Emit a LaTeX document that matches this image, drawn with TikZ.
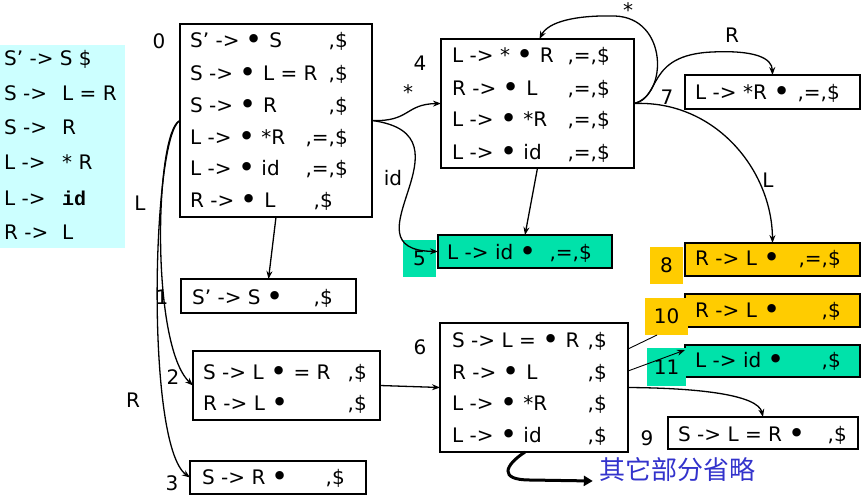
\documentclass[tikz,border=0pt]{standalone}
\usepackage{fontspec}
\usepackage{graphicx}
\setmainfont{DejaVu Sans}
\newfontfamily\cjkfont{Noto Sans CJK SC}
\newfontfamily\idfont{Liberation Mono}
\usetikzlibrary{arrows.meta,calc}

\definecolor{panelcyan}{RGB}{204,255,255}
\definecolor{stategreen}{RGB}{0,226,170}
\definecolor{stategold}{RGB}{255,204,0}
\definecolor{noteblue}{RGB}{51,51,204}

\newcommand{\itemfont}{\fontsize{20}{20}\selectfont}
\newcommand{\dotm}{\raisebox{-0.11em}{\scalebox{1.45}{\textbullet}}}

\begin{document}
\begin{tikzpicture}[x=1pt,y=-1pt,
  box/.style={draw, line width=1.5pt, inner sep=0pt, outer sep=0pt},
  tagbox/.style={inner sep=0pt, outer sep=0pt, font=\itemfont},
  lhs/.style={font=\itemfont, inner sep=0pt, anchor=base west},
  la/.style={font=\itemfont, inner sep=0pt, anchor=base east},
  lbl/.style={font=\itemfont, inner sep=0pt},
  edge/.style={line width=1.3pt, -{Stealth[length=8pt,width=6pt]}}]
\useasboundingbox (0,0) rectangle (865,496);

% grammar panel
\node[fill=panelcyan, inner sep=0pt, minimum width=125pt, minimum height=203pt] (gram) at (62.5,146.5) {};
\node[lhs] (g1) at (4,65.5) {S' -> S \$};
\node[lhs] (g2a) at (4,100.5) {S ->};
\node[lhs] (g2b) at (62,100.5) {L = R};
\node[lhs] (g3a) at (4,134.5) {S ->};
\node[lhs] (g3b) at (62,134.5) {R};
\node[lhs] (g4a) at (4,169.5) {L ->};
\node[lhs] (g4b) at (62,169.5) {* R};
\node[lhs] (g5a) at (4,205.5) {L ->};
\node[lhs] (g5b) at (62,205.5) {\idfont\bfseries id};
\node[lhs] (g6a) at (4,239.5) {R ->};
\node[lhs] (g6b) at (62,239.5) {L};

% state boxes
\node[box, minimum width=192pt, minimum height=193pt] (b0) at (276,120.5) {};
\node[box, minimum width=175pt, minimum height=34pt] (b1) at (268.5,296) {};
\node[box, minimum width=187pt, minimum height=69pt] (b2) at (286.5,385.5) {};
\node[box, minimum width=176pt, minimum height=33pt] (b3) at (278,477.5) {};
\node[box, minimum width=193pt, minimum height=129pt] (b4) at (537.5,103.5) {};
\node[box, fill=stategreen, minimum width=174pt, minimum height=33pt] (b5) at (525,251.5) {};
\node[box, minimum width=188pt, minimum height=129pt] (b6) at (534,387.5) {};
\node[box, minimum width=175pt, minimum height=34pt] (b7) at (772.5,92) {};
\node[box, fill=stategold, minimum width=175pt, minimum height=33pt] (b8) at (772.5,259.5) {};
\node[box, fill=stategold, minimum width=175pt, minimum height=33pt] (b10) at (772.5,310.5) {};
\node[box, fill=stategreen, minimum width=175pt, minimum height=32pt] (b11) at (772.5,361) {};
\node[box, minimum width=190pt, minimum height=32pt] (b9) at (763,433) {};

% coloured state number tags
\node[tagbox, fill=stategreen, minimum width=33pt, minimum height=37pt] (t5) at (419.5,258.5) {\raisebox{-3pt}{5}};
\node[tagbox, fill=stategold, minimum width=33pt, minimum height=37pt] (t8) at (666.5,265.5) {\raisebox{-3pt}{8}};
\node[tagbox, fill=stategold, minimum width=43pt, minimum height=37pt] (t10) at (666.5,316.5) {\raisebox{-2pt}{10}};
\node[tagbox, fill=stategreen, minimum width=39pt, minimum height=38pt] (t11) at (666.5,367) {\raisebox{-3pt}{11}};

% items of state 0
\node[lhs] (i0a) at (190,47.5) {S' -> \dotm{} S};     \node[la] (k0a) at (348,47.5) {,\$};
\node[lhs] (i0b) at (190,80.5) {S -> \dotm{} L = R};  \node[la] (k0b) at (348,80.5) {,\$};
\node[lhs] (i0c) at (190,112.5) {S -> \dotm{} R};     \node[la] (k0c) at (348,112.5) {,\$};
\node[lhs] (i0d) at (190,144.5) {L -> \dotm{} *R};    \node[la] (k0d) at (348,144.5) {,=,\$};
\node[lhs] (i0e) at (190,175.5) {L -> \dotm{} id};    \node[la] (k0e) at (348,175.5) {,=,\$};
\node[lhs] (i0f) at (190,207.5) {R -> \dotm{} L};     \node[la] (k0f) at (333,207.5) {,\$};

% items of state 4
\node[lhs] (i4a) at (452,62.5) {L -> * \dotm{} R};    \node[la] (k4a) at (610,62.5) {,=,\$};
\node[lhs] (i4b) at (452,95.5) {R -> \dotm{} L};      \node[la] (k4b) at (610,95.5) {,=,\$};
\node[lhs] (i4c) at (452,126.5) {L -> \dotm{} *R};    \node[la] (k4c) at (610,126.5) {,=,\$};
\node[lhs] (i4d) at (452,159.5) {L -> \dotm{} id};    \node[la] (k4d) at (610,159.5) {,=,\$};

% items of state 6
\node[lhs] (i6a) at (452,347.5) {S -> L = \dotm{} R}; \node[la] (k6a) at (607,347.5) {,\$};
\node[lhs] (i6b) at (452,379.5) {R -> \dotm{} L};     \node[la] (k6b) at (607,379.5) {,\$};
\node[lhs] (i6c) at (452,410.5) {L -> \dotm{} *R};    \node[la] (k6c) at (607,410.5) {,\$};
\node[lhs] (i6d) at (452,442.5) {L -> \dotm{} id};    \node[la] (k6d) at (607,442.5) {,\$};

% items of state 2
\node[lhs] (i2a) at (203,379.5) {S -> L \dotm{} = R}; \node[la] (k2a) at (367,379.5) {,\$};
\node[lhs] (i2b) at (203,410.5) {R -> L \dotm};       \node[la] (k2b) at (367,410.5) {,\$};

% single-item states
\node[lhs] (i1) at (192,304.5) {S' -> S \dotm};       \node[la] (k1) at (333,304.5) {,\$};
\node[lhs] (i3) at (202,484.5) {S -> R \dotm};        \node[la] (k3) at (345,484.5) {,\$};
\node[lhs] (i7) at (695,99.5) {L -> *R \dotm};        \node[la] (k7) at (840,99.5) {,=,\$};
\node[lhs] (i5) at (447,259.5) {L -> id \dotm};       \node[la] (k5) at (592,259.5) {,=,\$};
\node[lhs] (i8) at (695,265.5) {R -> L \dotm};        \node[la] (k8) at (841,265.5) {,=,\$};
\node[lhs] (i10) at (695,317.5) {R -> L \dotm};       \node[la] (k10) at (841,317.5) {,\$};
\node[lhs] (i11) at (695,367.5) {L -> id \dotm};      \node[la] (k11) at (841,367.5) {,\$};
\node[lhs] (i9) at (678,441.5) {S -> L = R \dotm};    \node[la] (k9) at (847,441.5) {,\$};

% plain state numbers
\node[lbl] (n0) at (159,41) {0};
\node[lbl] (n1) at (162,297) {1};
\node[lbl] (n2) at (173,377) {2};
\node[lbl] (n3) at (172,483) {3};
\node[lbl] (n4) at (420,63) {4};
\node[lbl] (n6) at (420,347) {6};
\node[lbl] (n7) at (667,97) {7};
\node[lbl] (n9) at (647,438) {9};

% transition symbols
\node[lbl] (sL0) at (140,203) {L};
\node[lbl] (sR0) at (133,400) {R};
\node[lbl] (sS0) at (408,92) {*};
\node[lbl] (sI0) at (393,178) {id};
\node[lbl] (sS4) at (628,10) {*};
\node[lbl] (sR4) at (732,35) {R};
\node[lbl] (sL4) at (768,180) {L};

% note
\node[inner sep=0pt, font=\cjkfont\fontsize{26}{26}\selectfont, text=noteblue] (note) at (677,470) {其它部分省略};

% transitions
\draw[edge] (b0.south) -- (b1.north);
\draw[edge] (b0.west) .. controls (155,130) and (150,345) .. (b2.west);
\draw[edge] (b0.west) .. controls (152,135) and (145,445) .. (b3.west);
\draw[edge] (b0.east) .. controls (410,122) and (405,104) .. (b4.west);
\draw[edge] (b0.east) .. controls (480,135) and (340,250) .. (b5.west);
\draw[edge] (b4.south) -- (b5.north);
\draw[edge] (b4.east) .. controls (668,95) and (668,18) .. (615,16)
  .. controls (575,15) and (548,22) .. ($(b4.north)+(2,0)$);
\draw[edge] (b4.east) .. controls (662,98) and (645,55) .. (712,52)
  .. controls (755,50) and (772,58) .. (b7.north);
\draw[edge] (b4.east) .. controls (715,100) and (772,170) .. (b8.north);
\draw[edge] (b2.east) -- (b6.west);
\draw[line width=0.9pt] ($(b6.north east)+(0,26)$) -- ($(t10.south west)+(12,0)$);
\draw[edge, line width=0.9pt] ($(b6.north east)+(0,48)$) -- ($(b11.north west)+(0,5)$);
\draw[edge] (b6.east) .. controls (700,388) and (758,395) .. (b9.north);
\draw[line width=3pt, -{Triangle[length=9pt,width=10pt]}] ($(b6.south)+(-9,0)$)
  .. controls (505,465) and (498,480) .. (530,480) -- ($(note.west)+(-6,11)$);
\end{tikzpicture}
\end{document}
